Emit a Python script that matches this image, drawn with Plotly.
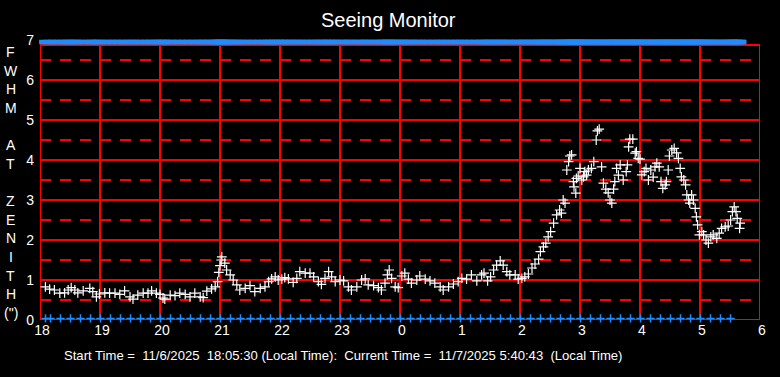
import plotly.graph_objects as go

# ---------------- data ----------------
# time in hours since midnight of start day (24 = 0h next day)
times = [
    18.09, 18.16, 18.24, 18.33, 18.41, 18.47, 18.52, 18.58, 18.63, 18.72,
    18.83, 18.88, 18.94, 18.99, 19.08, 19.16, 19.25, 19.33, 19.41, 19.50,
    19.55, 19.63, 19.72, 19.80, 19.86, 19.94, 20.00, 20.05, 20.08, 20.17,
    20.25, 20.33, 20.42, 20.50, 20.58, 20.67, 20.72, 20.78, 20.86, 20.92,
    20.96, 20.98, 21.00, 21.02, 21.03, 21.08, 21.11, 21.17, 21.22, 21.28,
    21.33, 21.42, 21.50, 21.58, 21.67, 21.75, 21.81, 21.86, 21.92, 21.97,
    22.03, 22.08, 22.14, 22.22, 22.28, 22.33, 22.42, 22.50, 22.56, 22.64,
    22.69, 22.75, 22.81, 22.86, 22.92, 23.00, 23.06, 23.14, 23.19, 23.28,
    23.36, 23.42, 23.47, 23.56, 23.64, 23.69, 23.75, 23.79, 23.82, 23.86,
    23.92, 23.97, 24.03, 24.08, 24.14, 24.19, 24.28, 24.33, 24.42, 24.50,
    24.58, 24.67, 24.72, 24.81, 24.89, 24.97, 25.03, 25.11, 25.19, 25.28,
    25.36, 25.40, 25.46, 25.51, 25.56, 25.61, 25.67, 25.72, 25.78, 25.83,
    25.92, 25.97, 26.03, 26.08, 26.14, 26.20, 26.25, 26.31, 26.34, 26.39,
    26.43, 26.47, 26.51, 26.56, 26.61, 26.66, 26.69, 26.72, 26.75, 26.78,
    26.81, 26.83, 26.86, 26.89, 26.90, 26.93, 26.94, 26.97, 27.00, 27.03,
    27.06, 27.08, 27.11, 27.14, 27.19, 27.23, 27.27, 27.29, 27.32, 27.36,
    27.39, 27.43, 27.47, 27.50, 27.53, 27.56, 27.58, 27.61, 27.64, 27.67,
    27.72, 27.77, 27.79, 27.81, 27.83, 27.88, 27.92, 27.94, 27.97, 28.00,
    28.03, 28.07, 28.10, 28.14, 28.18, 28.22, 28.25, 28.28, 28.32, 28.35,
    28.38, 28.42, 28.44, 28.47, 28.49, 28.53, 28.57, 28.61, 28.64, 28.67,
    28.69, 28.73, 28.76, 28.78, 28.81, 28.83, 28.86, 28.89, 28.92, 28.94,
    28.96, 28.99, 29.03, 29.06, 29.10, 29.14, 29.18, 29.22, 29.28, 29.32,
    29.36, 29.42, 29.47, 29.51, 29.54, 29.57, 29.60, 29.62, 29.66, 29.67,
]
fwhm = [
    0.83, 0.77, 0.75, 0.67, 0.68, 0.75, 0.81, 0.75, 0.68, 0.73,
    0.79, 0.71, 0.58, 0.65, 0.68, 0.67, 0.67, 0.64, 0.73, 0.58,
    0.52, 0.62, 0.67, 0.67, 0.73, 0.67, 0.64, 0.55, 0.52, 0.62,
    0.61, 0.67, 0.64, 0.58, 0.67, 0.58, 0.56, 0.72, 0.78, 0.83,
    0.96, 1.19, 1.36, 1.50, 1.58, 1.42, 1.25, 1.13, 1.00, 0.88,
    0.75, 0.79, 0.86, 0.71, 0.79, 0.83, 0.96, 1.03, 1.08, 1.00,
    1.02, 1.06, 1.03, 0.94, 1.04, 1.21, 1.17, 1.17, 1.08, 0.96,
    0.89, 1.04, 1.21, 1.08, 0.96, 1.00, 0.98, 0.83, 0.75, 0.83,
    1.00, 1.03, 0.88, 0.86, 0.81, 0.75, 0.92, 1.13, 1.25, 1.04,
    0.83, 0.81, 1.10, 1.17, 1.02, 0.92, 1.00, 1.10, 1.02, 0.98,
    0.92, 0.83, 0.75, 0.83, 0.90, 0.96, 1.04, 1.02, 1.13, 0.98,
    1.13, 1.17, 0.98, 1.08, 1.25, 1.37, 1.48, 1.37, 1.21, 1.13,
    1.13, 1.02, 1.04, 1.08, 1.15, 1.30, 1.40, 1.52, 1.71, 1.83,
    1.92, 2.08, 2.21, 2.42, 2.63, 2.75, 2.67, 3.00, 2.92, 3.75,
    3.96, 4.10, 4.13, 3.46, 3.33, 3.17, 3.54, 3.60, 3.79, 3.50,
    3.58, 3.71, 3.62, 3.75, 3.79, 3.96, 4.50, 4.73, 4.77, 3.83,
    3.42, 3.27, 3.18, 3.00, 2.92, 3.27, 3.46, 3.79, 3.62, 3.88,
    3.50, 3.71, 3.88, 4.33, 4.52, 4.52, 4.17, 4.21, 4.04, 4.02,
    3.63, 3.71, 3.79, 3.50, 3.75, 3.57, 3.83, 3.92, 3.83, 3.46,
    3.29, 3.38, 3.46, 3.75, 4.10, 4.25, 4.29, 4.18, 4.04, 3.79,
    3.58, 3.50, 3.38, 3.13, 3.00, 2.92, 3.13, 3.00, 2.79, 2.58,
    2.38, 2.13, 2.21, 2.13, 2.00, 1.92, 2.08, 2.13, 2.04, 2.17,
    2.29, 2.33, 2.35, 2.50, 2.71, 2.83, 2.71, 2.54, 2.29, 2.42,
]
# 10-minute status marks along the bottom (minutes after 18:00)
status_minutes = [5.5, 10.5] + [20.5 + 10 * k for k in range(68)]
status_times = [18 + m / 60 for m in status_minutes]

x_tick_vals = list(range(18, 31))
x_tick_text = ["18", "19", "20", "21", "22", "23", "0", "1", "2", "3", "4", "5", "6"]
y_tick_vals = list(range(0, 8))
y_title_letters = ["F", "W", "H", "M", "", "A", "T", "", "Z", "E", "N", "I", "T", "H", "(\")"]

title_text = "Seeing Monitor"
footer_text = ("Start Time =\u00a0 11/6/2025\u00a0 18:05:30 (Local Time):\u00a0 Current Time =\u00a0 "
               "11/7/2025 5:40:43\u00a0 (Local Time)")

# ---------------- styling ----------------
RED = "#ff0000"
BLUE = "#1e8cff"
FONT = "Liberation Sans, Arial, sans-serif"
X0, X1 = 18, 30
Y_TOP_BOX = 6.875
TOP_BAND_Y = 6.95
BOTTOM_MARK_Y = 0.04

fig = go.Figure()

# top status band
fig.add_trace(go.Scatter(
    x=times, y=[TOP_BAND_Y] * len(times), mode="markers", cliponaxis=False,
    marker=dict(symbol="line-ew", size=9, line=dict(color=BLUE, width=4.5)),
    hoverinfo="skip", showlegend=False))
# bottom status marks
fig.add_trace(go.Scatter(
    x=status_times, y=[BOTTOM_MARK_Y] * len(status_times), mode="markers", cliponaxis=False,
    marker=dict(symbol="cross-thin", size=6, line=dict(color=BLUE, width=1.5)),
    hoverinfo="skip", showlegend=False))
# FWHM data
fig.add_trace(go.Scatter(
    x=times, y=fwhm, mode="markers", cliponaxis=False,
    marker=dict(symbol="cross-thin", size=7, line=dict(color="white", width=1.2)),
    hoverinfo="skip", showlegend=False))

shapes = []
for h in range(X0 + 1, X1):
    shapes.append(dict(type="line", x0=h, x1=h, y0=0, y1=Y_TOP_BOX, xref="x", yref="y",
                       line=dict(color=RED, width=2), layer="below"))
for v in range(1, 7):
    shapes.append(dict(type="line", x0=X0, x1=X1, y0=v, y1=v, xref="x", yref="y",
                       line=dict(color=RED, width=2), layer="below"))
for k in range(7):
    v = k + 0.5
    shapes.append(dict(type="line", x0=X0, x1=X1, y0=v, y1=v, xref="x", yref="y",
                       line=dict(color=RED, width=2, dash="11px,9px"), layer="below"))
shapes.append(dict(type="rect", x0=X0, x1=X1, y0=0, y1=Y_TOP_BOX, xref="x", yref="y",
                   line=dict(color=RED, width=2), layer="below"))

# plot area: x 40..760 px, y 40..320 px
PL, PR, PT, PB = 40, 760, 40, 320
def px_x(p):
    return (p - PL) / (PR - PL)
def px_y(p):
    return (PB - p) / (PB - PT)

annotations = []
for i, ch in enumerate(y_title_letters):
    if ch:
        annotations.append(dict(text=ch, x=px_x(11), y=px_y(52 + i * 18.64), xref="paper", yref="paper",
                                showarrow=False, xanchor="center", yanchor="middle",
                                font=dict(family=FONT, size=14, color="white")))
annotations.append(dict(text=title_text, x=px_x(388), y=px_y(20), xref="paper", yref="paper",
                        showarrow=False, xanchor="center", yanchor="middle",
                        font=dict(family=FONT, size=20, color="white")))
annotations.append(dict(text=footer_text, x=px_x(62), y=px_y(355), xref="paper", yref="paper",
                        showarrow=False, xanchor="left", yanchor="middle",
                        font=dict(family=FONT, size=13.1, color="white")))

fig.update_layout(
    width=780, height=377,
    margin=dict(l=PL, r=780 - PR, t=PT, b=377 - PB),
    paper_bgcolor="black", plot_bgcolor="black",
    shapes=shapes, annotations=annotations, showlegend=False,
    xaxis=dict(range=[X0, X1], showgrid=False, zeroline=False, showline=False,
               tickvals=x_tick_vals, ticktext=x_tick_text, ticks="", ticklabelshift=2,
               tickfont=dict(family=FONT, size=14, color="white"), fixedrange=True),
    yaxis=dict(range=[0, 7], showgrid=False, zeroline=False, showline=False,
               tickvals=y_tick_vals, ticks="", ticklabelstandoff=5,
               tickfont=dict(family=FONT, size=14, color="white"), fixedrange=True),
)

fig.write_html("out.html", config={"displayModeBar": False},
               post_script="document.body.style.margin='0';document.body.style.background='black';")
